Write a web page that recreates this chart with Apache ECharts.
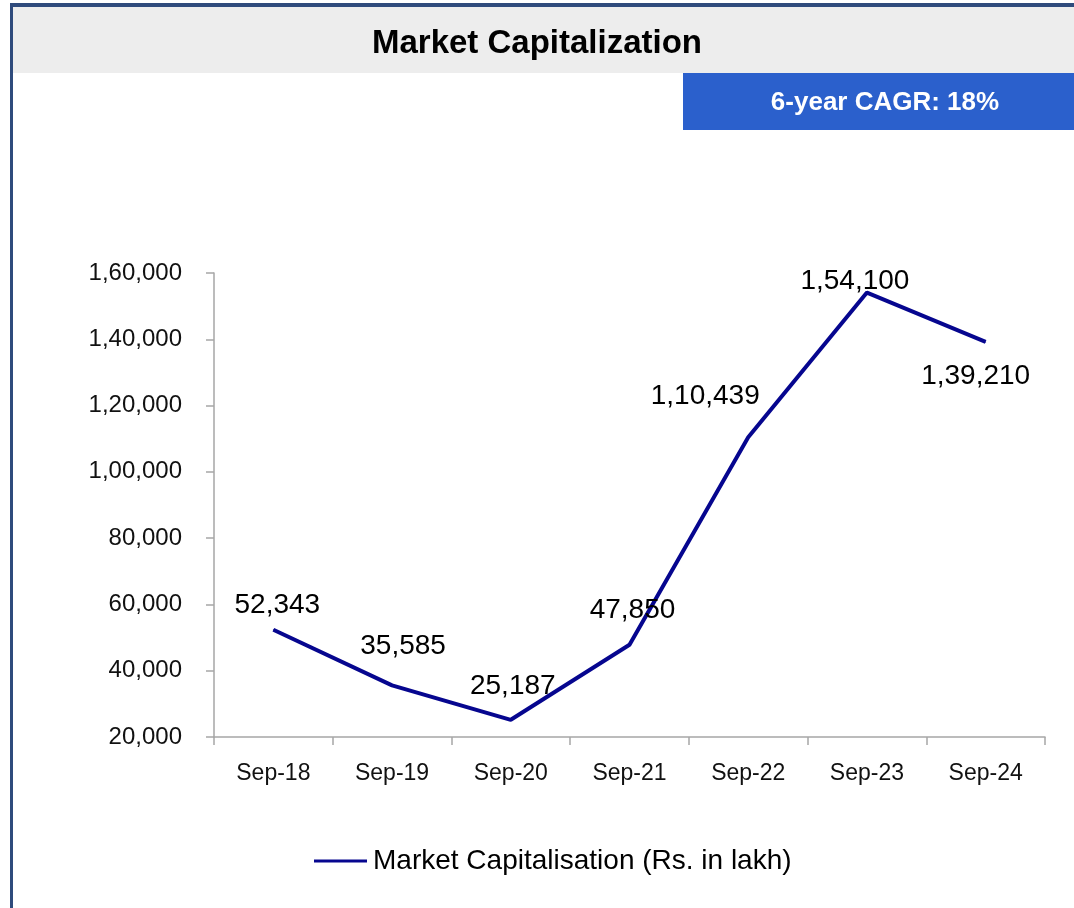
<!DOCTYPE html>
<html>
<head>
<meta charset="utf-8">
<title>Market Capitalization</title>
<script src="https://cdn.jsdelivr.net/npm/echarts@6/dist/echarts.min.js"></script>
<style>
    html, body { margin: 0; padding: 0; background: #fff; }
    #chart { width: 1074px; height: 908px; }
</style>
</head>
<body>
<div id="chart"></div>
<script>
// 图表数据
var categories = ['Sep-18', 'Sep-19', 'Sep-20', 'Sep-21', 'Sep-22', 'Sep-23', 'Sep-24'];
var marketCap = [52343, 35585, 25187, 47850, 110439, 154100, 139210];
var seriesName = 'Market Capitalisation (Rs. in lakh)';
var titleText = 'Market Capitalization';
var cagrText = '6-year CAGR: 18%';

// 数据标签偏移（相对数据点中心）
var labelOffsets = [[4, -25], [11, -39], [2, -34], [3, -34], [-43, -41], [-12, -11], [-10, 34]];

var fontFamily = '"Liberation Sans", Arial, sans-serif';

// 印度数字格式 1,54,100
function indianFormat(n) {
    var s = String(Math.round(n));
    if (s.length <= 3) return s;
    var last3 = s.slice(-3);
    var rest = s.slice(0, -3).replace(/\B(?=(\d{2})+(?!\d))/g, ',');
    return rest + ',' + last3;
}

var myChart = echarts.init(document.getElementById('chart'));

var seriesData = marketCap.map(function (v, i) {
    return {
        value: v,
        label: { offset: labelOffsets[i] }
    };
});

var option = {
    animation: false,
    backgroundColor: '#fff',
    title: {
        text: titleText,
        left: 'center',
        top: 22,
        textStyle: {
            fontFamily: fontFamily,
            fontSize: 33,
            fontWeight: 'bold',
            color: '#000'
        }
    },
    graphic: [
        // 灰色标题栏
        { type: 'rect', z: -10, shape: { x: 13, y: 7, width: 1061, height: 66 }, style: { fill: '#ededed' } },
        // 外框
        { type: 'rect', z: -5, shape: { x: 10, y: 3, width: 1064, height: 4 }, style: { fill: '#2f4b7c' } },
        { type: 'rect', z: -5, shape: { x: 10, y: 3, width: 3, height: 905 }, style: { fill: '#2f4b7c' } },
        // CAGR 蓝色框
        { type: 'rect', z: -5, shape: { x: 683, y: 73, width: 391, height: 57 }, style: { fill: '#2b60cc' } },
        {
            type: 'text', x: 885, y: 103,
            style: {
                text: cagrText, fill: '#fff', fontFamily: fontFamily,
                fontSize: 26, fontWeight: 'bold', align: 'center', verticalAlign: 'middle'
            }
        }
    ],
    legend: {
        left: 309,
        top: 842,
        itemWidth: 53,
        itemHeight: 14,
        itemGap: 10,
        textStyle: { fontFamily: fontFamily, fontSize: 28, color: '#000', padding: [0, 0, 0, 1] },
        data: [{ name: seriesName, icon: 'path://M0,6 L53,6 L53,9 L0,9 Z' }]
    },
    grid: {
        left: 214,
        right: 29,
        top: 273,
        bottom: 171,
        containLabel: false
    },
    xAxis: {
        type: 'category',
        data: categories,
        boundaryGap: true,
        axisLine: { lineStyle: { color: '#a6a6a6', width: 1.5 } },
        axisTick: { show: true, length: 8, lineStyle: { color: '#a6a6a6', width: 1.5 } },
        axisLabel: {
            margin: 25,
            fontFamily: fontFamily,
            fontSize: 23,
            color: '#111'
        }
    },
    yAxis: {
        type: 'value',
        min: 20000,
        max: 160000,
        interval: 20000,
        axisLine: { show: true, lineStyle: { color: '#a6a6a6', width: 1.5 } },
        axisTick: { show: true, length: 8, lineStyle: { color: '#a6a6a6', width: 1.5 } },
        splitLine: { show: false },
        axisLabel: {
            margin: 32,
            fontFamily: fontFamily,
            fontSize: 24,
            color: '#111',
            formatter: indianFormat
        }
    },
    series: [{
        name: seriesName,
        type: 'line',
        data: seriesData,
        symbol: 'circle',
        symbolSize: 1,
        itemStyle: { color: '#06068f' },
        lineStyle: { color: '#06068f', width: 4 },
        label: {
            show: true,
            position: 'inside',
            fontFamily: fontFamily,
            fontSize: 28,
            color: '#000',
            formatter: function (p) { return indianFormat(p.value); }
        }
    }]
};

myChart.setOption(option);
</script>
</body>
</html>
